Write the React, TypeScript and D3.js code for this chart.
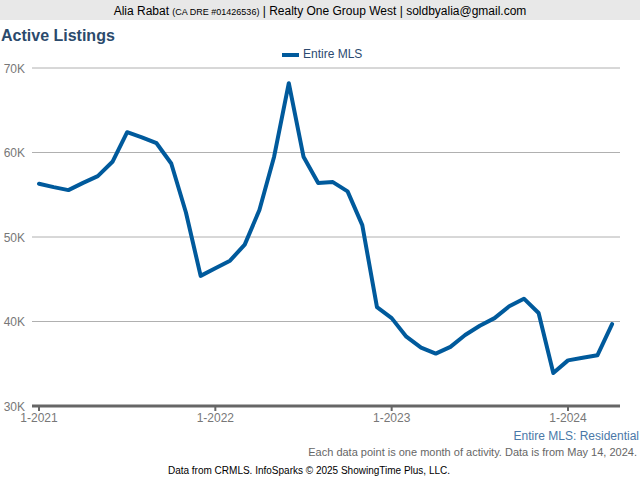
import React from "react";
import * as d3 from "d3";

const months: string[] = [];
for (let y = 2021; y <= 2024; y++) for (let m = 1; m <= 12; m++) months.push(`${m}-${y}`);
const values = [
  56300, 55900, 55550, 56400, 57200, 58900, 62400, 61800, 61100, 58700,
  52900, 45400, 46300, 47200, 49100, 53200, 59500, 68200, 59500, 56400,
  56500, 55400, 51400, 41700, 40400, 38200, 36900, 36200, 37000, 38400,
  39500, 40400, 41800, 42700, 41000, 33900, 35400, 35700, 36000, 39700,
];
const yTicks = [30000, 40000, 50000, 60000, 70000];
const xTickIdx = [0, 12, 24, 36];
const xTickLabels = ["1-2021", "1-2022", "1-2023", "1-2024"];

export default function App() {
  const font = "'Liberation Sans', Arial, sans-serif";
  const x = d3.scaleLinear().domain([0, 36]).range([39, 568]);
  const y = d3.scaleLinear().domain([30000, 70000]).range([406, 68]);
  const line = d3
    .line<number>()
    .x((_, i) => x(i))
    .y((d) => y(d));
  return (
    <svg width={640} height={480} style={{ position: "absolute", left: 0, top: 0 }} fontFamily={font}>
      <rect x={0} y={0} width={640} height={480} fill="#fff" />
      <rect x={0} y={0} width={640} height={20} fill="#e8e8e8" />
      <text x={320} y={15} textAnchor="middle" fontSize={12} fill="#000">
        Alia Rabat <tspan fontSize={9}>(CA DRE #01426536)</tspan> | Realty One Group West | soldbyalia@gmail.com
      </text>
      <text x={1} y={41} fontSize={16} fontWeight="bold" fill="#2b4a6c">Active Listings</text>
      <rect x={282} y={53} width={17} height={4} fill="#005a9c" />
      <text x={303} y={58} fontSize={12} fill="#2c4a70">Entire MLS</text>
      {yTicks.map((t) =>
        t === 30000 ? null : (
          <line key={t} x1={32} x2={620} y1={y(t)} y2={y(t)} stroke="#b0b0b0" strokeWidth={1} />
        )
      )}
      {yTicks.map((t) => (
        <text key={t} x={25} y={y(t) + 4.5} textAnchor="end" fontSize={12} fill="#777">{`${t / 1000}K`}</text>
      ))}
      <line x1={32} x2={620} y1={y(30000)} y2={y(30000)} stroke="#666" strokeWidth={3} />
      {xTickIdx.map((ti, k) => (
        <g key={ti}>
          <line x1={x(ti)} x2={x(ti)} y1={406} y2={411} stroke="#666" strokeWidth={2} />
          <text x={x(ti)} y={422} textAnchor="middle" fontSize={12} fill="#777">{xTickLabels[k]}</text>
        </g>
      ))}
      <path d={line(values) || ""} fill="none" stroke="#005a9c" strokeWidth={4} strokeLinejoin="round" strokeLinecap="round" />
      <text x={639} y={440} textAnchor="end" fontSize={12} fill="#4a78a8">Entire MLS: Residential</text>
      <text x={637} y={456} textAnchor="end" fontSize={11} fill="#666">Each data point is one month of activity. Data is from May 14, 2024.</text>
      <text x={309} y={474} textAnchor="middle" fontSize={10} fill="#000">Data from CRMLS. InfoSparks © 2025 ShowingTime Plus, LLC.</text>
    </svg>
  );
}
